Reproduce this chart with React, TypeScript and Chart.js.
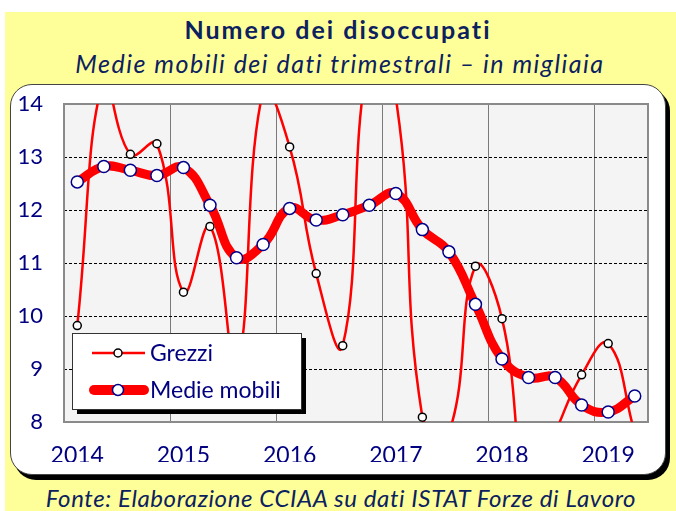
import { useEffect, useRef } from 'react';
import { Chart, registerables } from 'chart.js';

Chart.register(...registerables);

const quarters = [
  '2014 T1', '2014 T2', '2014 T3', '2014 T4',
  '2015 T1', '2015 T2', '2015 T3', '2015 T4',
  '2016 T1', '2016 T2', '2016 T3', '2016 T4',
  '2017 T1', '2017 T2', '2017 T3', '2017 T4',
  '2018 T1', '2018 T2', '2018 T3', '2018 T4',
  '2019 T1', '2019 T2',
];
const yearLabels = ['2014', '2015', '2016', '2017', '2018', '2019'];
const grezzi = [
  9.82, 14.47, 13.05, 13.25, 10.45, 11.69, 9.05, 14.24, 13.19, 10.8, 9.44,
  14.93, 14.12, 8.09, 7.8, 10.94, 9.95, 6.7, 7.8, 8.89, 9.48, 7.8,
];
const medieMobili = [
  12.53, 12.82, 12.75, 12.65, 12.8, 12.09, 11.1, 11.35, 12.03, 11.81, 11.91,
  12.09, 12.31, 11.63, 11.21, 10.22, 9.19, 8.84, 8.84, 8.32, 8.19, 8.49,
];
const yMin = 8;
const yMax = 14;
const legendLabels = ['Grezzi', 'Medie mobili'];

const FONT = 'Lato, "Noto Sans", sans-serif';
const NAVY = '#000080';
const TITLE = '#0b2160';
const RED = '#ff0000';

const decorPlugin = {
  id: 'decor',
  beforeDraw(chart: any) {
    const { ctx, chartArea: a } = chart;
    ctx.save();
    ctx.fillStyle = '#f4f4f4';
    ctx.fillRect(a.left, a.top, a.right - a.left, a.bottom - a.top);
    ctx.restore();
  },
  beforeDatasetsDraw(chart: any) {
    const { ctx, chartArea: a } = chart;
    ctx.save();
    ctx.strokeStyle = '#8a8a8a';
    ctx.lineWidth = 2;
    ctx.strokeRect(a.left, a.top, a.right - a.left, a.bottom - a.top);
    ctx.restore();
  },
  afterDraw(chart: any) {
    const { ctx, chartArea: a } = chart;
    const bx = a.left + 8;
    const by = a.top + 229;
    const bw = 229;
    const bh = 76;
    ctx.save();
    ctx.fillStyle = '#000';
    ctx.fillRect(bx + 5, by + 5, bw, bh);
    ctx.fillStyle = '#fff';
    ctx.fillRect(bx, by, bw, bh);
    ctx.strokeStyle = '#333';
    ctx.lineWidth = 1;
    ctx.strokeRect(bx + 0.5, by + 0.5, bw, bh);
    // entry 1
    const y1 = by + 20;
    ctx.strokeStyle = RED;
    ctx.lineWidth = 2.5;
    ctx.beginPath();
    ctx.moveTo(bx + 20, y1);
    ctx.lineTo(bx + 73, y1);
    ctx.stroke();
    ctx.beginPath();
    ctx.arc(bx + 46, y1, 4, 0, Math.PI * 2);
    ctx.fillStyle = '#fff';
    ctx.fill();
    ctx.strokeStyle = '#000';
    ctx.lineWidth = 1.5;
    ctx.stroke();
    // entry 2
    const y2 = by + 57;
    ctx.strokeStyle = RED;
    ctx.lineWidth = 10;
    ctx.lineCap = 'round';
    ctx.beginPath();
    ctx.moveTo(bx + 22, y2);
    ctx.lineTo(bx + 72, y2);
    ctx.stroke();
    ctx.beginPath();
    ctx.arc(bx + 46, y2, 5.5, 0, Math.PI * 2);
    ctx.fillStyle = '#fff';
    ctx.fill();
    ctx.strokeStyle = '#00008b';
    ctx.lineWidth = 1.5;
    ctx.stroke();
    ctx.fillStyle = NAVY;
    ctx.font = `23px ${FONT}`;
    ctx.textBaseline = 'middle';
    ctx.textAlign = 'left';
    ctx.fillText(legendLabels[0], bx + 78, y1 + 1);
    ctx.fillText(legendLabels[1], bx + 78, y2 + 1);
    ctx.restore();
  },
};

export default function App() {
  const canvasRef = useRef<HTMLCanvasElement>(null);

  useEffect(() => {
    const canvas = canvasRef.current;
    if (!canvas) return;
    const chart = new Chart(canvas, {
      type: 'line',
      data: {
        labels: quarters,
        datasets: [
          {
            label: legendLabels[0],
            data: grezzi,
            borderColor: RED,
            borderWidth: 2.5,
            tension: 0.45,
            pointRadius: 4,
            pointBackgroundColor: '#fff',
            pointBorderColor: '#000',
            pointBorderWidth: 1.5,
            clip: 0,
            order: 1,
          },
          {
            label: legendLabels[1],
            data: medieMobili,
            borderColor: RED,
            borderWidth: 9,
            tension: 0.45,
            borderCapStyle: 'round',
            borderJoinStyle: 'round',
            pointRadius: 6,
            pointBackgroundColor: '#fff',
            pointBorderColor: '#00008b',
            pointBorderWidth: 1.5,
            order: 0,
          },
        ],
      },
      options: {
        animation: false,
        responsive: false,
        maintainAspectRatio: false,
        events: [],
        elements: { line: { capBezierPoints: false } },
        layout: { padding: { left: 4, right: 28, top: 104, bottom: 49 } },
        plugins: {
          legend: { display: false },
          tooltip: { enabled: false },
        },
        scales: {
          x: {
            type: 'category',
            offset: true,
            grid: {
              offset: true,
              drawTicks: false,
              lineWidth: 1,
              color: (c: any) => (c.index % 4 === 0 ? '#7a7a7a' : 'rgba(0,0,0,0)'),
            },
            border: { display: false },
            ticks: {
              autoSkip: false,
              maxRotation: 0,
              minRotation: 0,
              padding: 20,
              color: NAVY,
              font: { family: FONT, size: 23 },
              callback: (_v: any, i: number) => (i % 4 === 0 ? yearLabels[i / 4] : ''),
            },
            afterFit: (s: any) => {
              s.height = 40;
            },
          },
          y: {
            min: yMin,
            max: yMax,
            ticks: {
              stepSize: 1,
              padding: 21,
              color: NAVY,
              font: { family: FONT, size: 22 },
            },
            grid: { drawTicks: false, color: '#000', lineWidth: 1 },
            border: { display: false, dash: [3, 2] },
            afterFit: (s: any) => {
              s.width = 60;
            },
          },
        },
      },
      plugins: [decorPlugin],
    } as any);
    return () => chart.destroy();
  }, []);

  return (
    <div style={{ position: 'absolute', left: 0, top: 0, width: 676, height: 511, background: '#fff', overflow: 'hidden' }}>
      <div style={{ position: 'absolute', left: 5, top: 12, width: 671, height: 499, background: '#ffff99' }} />
      <div style={{ position: 'absolute', left: 0, top: 17, width: 676, textAlign: 'center', fontFamily: FONT, fontWeight: 700, fontSize: 25, lineHeight: '25px', letterSpacing: 2, color: TITLE, whiteSpace: 'nowrap' }}>
        Numero dei disoccupati
      </div>
      <div style={{ position: 'absolute', left: 0, top: 51, width: 680, textAlign: 'center', fontFamily: FONT, fontStyle: 'italic', fontSize: 25, lineHeight: '25px', letterSpacing: 1.5, color: TITLE, whiteSpace: 'nowrap' }}>
        Medie mobili dei dati trimestrali – in migliaia
      </div>
      <div style={{ position: 'absolute', left: 10, top: 84, width: 654, height: 389, background: '#fff', border: '1px solid #444', borderRadius: 22, boxShadow: '4px 5px 0 #000' }} />
      <div style={{ position: 'absolute', left: 0, top: 486, width: 682, textAlign: 'center', fontFamily: FONT, fontStyle: 'italic', fontSize: 24, lineHeight: '24px', letterSpacing: 0.6, color: TITLE, whiteSpace: 'nowrap' }}>
        Fonte: Elaborazione CCIAA su dati ISTAT Forze di Lavoro
      </div>
      <canvas ref={canvasRef} width={676} height={511} style={{ position: 'absolute', left: 0, top: 0, width: 676, height: 511 }} />
    </div>
  );
}
